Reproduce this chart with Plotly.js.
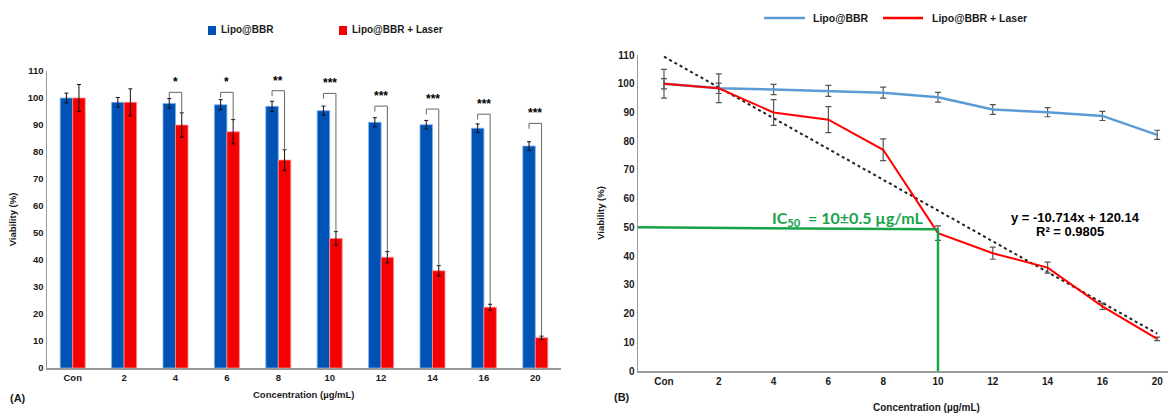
<!DOCTYPE html>
<html>
<head>
<meta charset="utf-8">
<script src="https://cdn.plot.ly/plotly-3.0.1.min.js"></script>
<style>html,body{margin:0;padding:0;background:#fff;}#chart{width:1168px;height:414px;}</style>
</head>
<body>
<div id="chart"></div>
<script>
// ---------- data ----------
const categories = ['Con', '2', '4', '6', '8', '10', '12', '14', '16', '20'];
const viabilityLipo = [100, 98.4, 98, 97.5, 96.9, 95.3, 91, 90.1, 88.8, 82.2];
const errLipo = [1.8, 1.8, 1.8, 1.9, 1.9, 1.7, 1.7, 1.6, 1.6, 1.6];
const viabilityLaser = [100, 98.4, 90, 87.5, 77, 48, 41, 36, 22.5, 11.2];
const errLaser = [5, 5, 4.5, 4.5, 3.8, 2.5, 2.1, 1.9, 1.1, 0.6];
const significance = ['', '', '*', '*', '**', '***', '***', '***', '***', '***'];
const bracketTop = [null, null, 102.1, 102.1, 102.7, 101.7, 97, 95.9, 94, 90.6];
const fitSlope = -10.714;
const fitIntercept = 120.14;
const fitR2 = 0.9805;
const ic50Index = 5;      // position of "10" µg/mL
const ic50Viability = [50, 49.3];

// ---------- helpers ----------
const W = 1168, H = 414;
const px = v => v / W;
const py = v => 1 - v / H;
const idx = categories.map((c, i) => i);
const boldFont = (size, color) => ({family: 'Liberation Sans, Arial, sans-serif', size: size, color: color || '#1a1a1a', weight: 'bold'});

const barOffset = 0.1215;

const traces = [
  {type: 'bar', x: idx, y: viabilityLipo, name: 'Lipo@BBR', xaxis: 'x', yaxis: 'y',
   marker: {color: '#0052b4', line: {color: '#7fb0e8', width: 0.8}},
   error_y: {type: 'data', array: errLipo, color: '#111', thickness: 1, width: 2}, showlegend: false},
  {type: 'bar', x: idx, y: viabilityLaser, name: 'Lipo@BBR + Laser', xaxis: 'x', yaxis: 'y',
   marker: {color: '#f50000', line: {color: '#ff8a8a', width: 0.8}},
   error_y: {type: 'data', array: errLaser, color: '#111', thickness: 1, width: 2}, showlegend: false},
  {type: 'scatter', mode: 'lines', x: idx, y: idx.map(i => fitSlope * (i + 1) + fitIntercept), xaxis: 'x2', yaxis: 'y2',
   line: {color: '#222', width: 2, dash: 'dot'}, showlegend: false, hoverinfo: 'skip'},
  {type: 'scatter', mode: 'lines', x: idx, y: viabilityLipo, name: 'Lipo@BBR', xaxis: 'x2', yaxis: 'y2',
   line: {color: '#5b9bd5', width: 2.5},
   error_y: {type: 'data', array: errLipo, color: '#555', thickness: 1.2, width: 3}, showlegend: false},
  {type: 'scatter', mode: 'lines', x: idx, y: viabilityLaser, name: 'Lipo@BBR + Laser', xaxis: 'x2', yaxis: 'y2',
   line: {color: '#ff0000', width: 2},
   error_y: {type: 'data', array: errLaser, color: '#555', thickness: 1.2, width: 3}, showlegend: false}
];

const shapes = [];
const annotations = [];

// significance brackets
idx.forEach(i => {
  if (!significance[i]) return;
  const top = bracketTop[i];
  const xl = i - barOffset, xr = i + barOffset;
  shapes.push({type: 'path', xref: 'x', yref: 'y',
    path: `M${xl},${top - 2} L${xl},${top} L${xr},${top} L${xr},${viabilityLaser[i] + errLaser[i]}`,
    line: {color: '#666', width: 1}});
  annotations.push({xref: 'x', yref: 'y', x: i, y: top, text: significance[i], showarrow: false,
    yanchor: 'bottom', yshift: 1, font: boldFont(12, '#000')});
});

// IC50 guide lines
const x2start = -0.474;
shapes.push({type: 'line', xref: 'x2', yref: 'y2', x0: x2start, x1: ic50Index, y0: ic50Viability[0], y1: ic50Viability[1],
  line: {color: '#17a34a', width: 2.5}});
shapes.push({type: 'line', xref: 'x2', yref: 'y2', x0: ic50Index, x1: ic50Index, y0: ic50Viability[1], y1: 0,
  line: {color: '#17a34a', width: 2.5}});

// manual legends
shapes.push({type: 'rect', xref: 'paper', yref: 'paper', x0: px(208), x1: px(216), y0: py(35), y1: py(26), fillcolor: '#0052b4', line: {width: 0}});
shapes.push({type: 'rect', xref: 'paper', yref: 'paper', x0: px(339), x1: px(347), y0: py(35), y1: py(26), fillcolor: '#f50000', line: {width: 0}});
annotations.push({xref: 'paper', yref: 'paper', x: px(219), y: py(30), xanchor: 'left', yanchor: 'middle', text: 'Lipo@BBR', showarrow: false, font: boldFont(10)});
annotations.push({xref: 'paper', yref: 'paper', x: px(350), y: py(30), xanchor: 'left', yanchor: 'middle', text: 'Lipo@BBR + Laser', showarrow: false, font: boldFont(10)});

shapes.push({type: 'line', xref: 'paper', yref: 'paper', x0: px(764), x1: px(805), y0: py(18), y1: py(18), line: {color: '#5b9bd5', width: 2.5}});
shapes.push({type: 'line', xref: 'paper', yref: 'paper', x0: px(883), x1: px(923), y0: py(18), y1: py(18), line: {color: '#ff0000', width: 2.5}});
annotations.push({xref: 'paper', yref: 'paper', x: px(811), y: py(18), xanchor: 'left', yanchor: 'middle', text: 'Lipo@BBR', showarrow: false, font: boldFont(10.5)});
annotations.push({xref: 'paper', yref: 'paper', x: px(930), y: py(18), xanchor: 'left', yanchor: 'middle', text: 'Lipo@BBR + Laser', showarrow: false, font: boldFont(10.5)});

// panel labels and texts
annotations.push({xref: 'paper', yref: 'paper', x: px(8), y: py(398), xanchor: 'left', yanchor: 'middle', text: '(A)', showarrow: false, font: boldFont(11)});
annotations.push({xref: 'paper', yref: 'paper', x: px(612), y: py(397), xanchor: 'left', yanchor: 'middle', text: '(B)', showarrow: false, font: boldFont(11)});
annotations.push({xref: 'paper', yref: 'paper', x: px(304), y: py(394), xanchor: 'center', yanchor: 'middle', text: 'Concentration (µg/mL)', showarrow: false, font: boldFont(9.5)});
annotations.push({xref: 'paper', yref: 'paper', x: px(926), y: py(407), xanchor: 'center', yanchor: 'middle', text: 'Concentration (µg/mL)', showarrow: false, font: boldFont(10)});
annotations.push({xref: 'paper', yref: 'paper', x: px(848), y: py(218), xanchor: 'center', yanchor: 'middle',
  text: 'IC<sub>50</sub>\u00a0 = 10±0.5 µg/mL', showarrow: false,
  font: {family: 'Lato, Liberation Sans, sans-serif', size: 16, color: '#17a34a', weight: 'bold'}});
annotations.push({xref: 'paper', yref: 'paper', x: px(1075), y: py(217), xanchor: 'center', yanchor: 'middle',
  text: 'y = ' + fitSlope + 'x + ' + fitIntercept, showarrow: false, font: boldFont(13, '#000')});
annotations.push({xref: 'paper', yref: 'paper', x: px(1070), y: py(231), xanchor: 'center', yanchor: 'middle',
  text: 'R² = ' + fitR2, showarrow: false, font: boldFont(13, '#000')});

const layout = {
  width: W, height: H,
  margin: {l: 0, r: 0, t: 0, b: 0},
  paper_bgcolor: '#fff', plot_bgcolor: 'rgba(0,0,0,0)',
  barmode: 'group', bargap: 0.514, bargroupgap: 0,
  showlegend: false,
  xaxis: {domain: [px(47), px(561)], range: [-0.5, 9.5], tickvals: idx, ticktext: categories,
    showgrid: false, zeroline: false, showline: true, linecolor: '#9a9a9a', linewidth: 1.5,
    ticks: '', tickfont: boldFont(9.5), anchor: 'y', fixedrange: true},
  yaxis: {domain: [py(368), py(71)], range: [0, 110], dtick: 10, showgrid: false, zeroline: false,
    showline: true, linecolor: '#9a9a9a', linewidth: 1.5, ticks: '', tickfont: boldFont(9.5), anchor: 'x',
    title: {text: 'Viability (%)', font: boldFont(9.5), standoff: 9}},
  xaxis2: {domain: [px(638), 1], range: [x2start, 9.197], tickvals: idx, ticktext: categories,
    showgrid: false, zeroline: false, showline: true, linecolor: '#9a9a9a', linewidth: 1.5,
    ticks: '', tickfont: boldFont(10), anchor: 'y2'},
  yaxis2: {domain: [py(371), py(55)], range: [0, 110], dtick: 10, showgrid: false, zeroline: false,
    showline: true, linecolor: '#9a9a9a', linewidth: 1.5, ticks: '', tickfont: boldFont(10), anchor: 'x2',
    title: {text: 'Viability (%)', font: boldFont(9.5), standoff: 11}},
  shapes: shapes,
  annotations: annotations
};

Plotly.newPlot('chart', traces, layout, {displayModeBar: false, staticPlot: true});
</script>
</body>
</html>
